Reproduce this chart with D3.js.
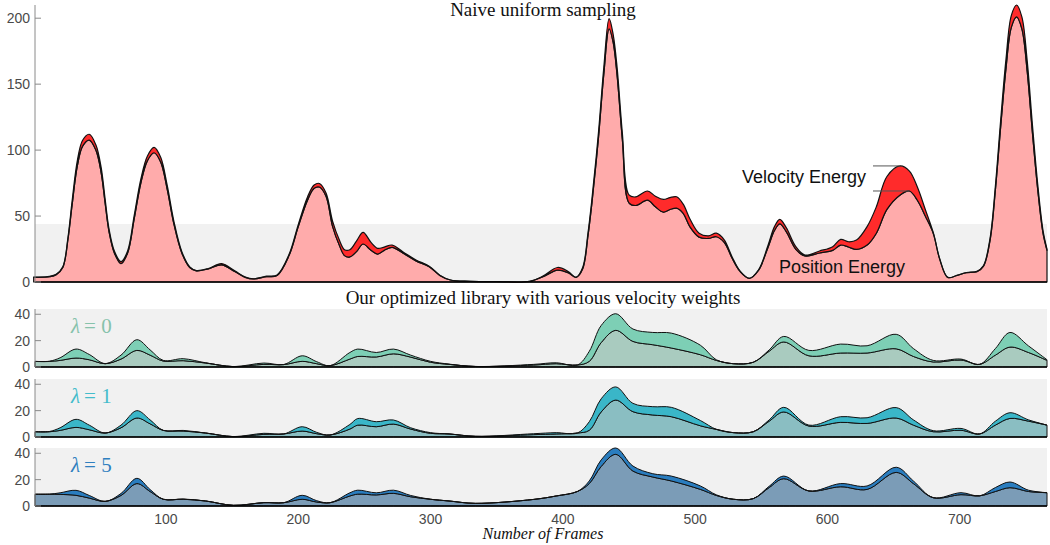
<!DOCTYPE html>
<html>
<head>
<meta charset="utf-8">
<title>Energy per frame</title>
<script src="https://d3js.org/d3.v7.min.js"></script>
<style>
    body { margin: 0; background: #fff; }
    text { font-family: "Liberation Sans", Arial, sans-serif; }
    .serif { font-family: "Liberation Serif", "DejaVu Serif", serif; }
</style>
</head>
<body>
<svg width="1050" height="545"></svg>
<script>
// top panel: naive uniform sampling
var naiveFrames = [0, 12, 17, 22, 26, 29, 33, 37, 42, 47, 51, 54, 57, 61, 66, 71, 76, 81, 86, 91, 96, 101, 106, 112, 118, 123, 132, 142, 152, 160, 166, 176, 184, 193, 200, 207, 212, 216, 221, 226, 231, 235, 239, 244, 249, 255, 260, 265, 271, 279, 289, 299, 307, 315, 330, 350, 375, 385, 396, 404, 410, 415, 419, 422, 427, 431, 435, 438, 441, 445, 450, 455, 464, 470, 476, 481, 486, 491, 496, 503, 510, 516, 522, 528, 534, 541, 548, 555, 560, 564, 569, 576, 583, 594, 604, 610, 616, 622, 630, 637, 645, 655, 662, 668, 674, 680, 685, 691, 698, 705, 713, 718, 723, 727, 731, 735, 739, 743, 747, 751, 755, 759, 763, 766];
var naivePosition = [3.6, 4, 5.5, 11, 33, 58, 88, 103, 107.5, 100, 83, 60, 38, 22, 14, 22, 48, 75, 92, 98, 91, 70, 44, 22, 11, 8.5, 10, 13, 8, 3.5, 2.3, 4, 5, 20, 42, 62, 71, 72, 65, 42, 28, 20, 19, 23, 28.8, 24, 21.2, 24, 26.3, 22, 16, 11.6, 5, 1.5, 0.5, 0.3, 0.5, 4, 9, 7, 3.5, 10, 35, 60, 110, 158, 192, 182, 157, 108, 60, 58, 62, 57, 53, 55, 56, 52, 42, 34, 33, 34.3, 30, 18, 8, 2.8, 9, 26, 39, 44, 38, 25, 19.7, 22, 24, 28, 26.5, 24.7, 28, 37, 55, 66, 69, 62, 50, 37, 17, 3.5, 5, 7, 7.8, 12, 32, 70, 118, 162, 193, 201, 192, 160, 113, 70, 37, 24];
var naiveVelocity = [0.2, 0.2, 0.3, 0.5, 1.5, 3, 4, 4.5, 4.5, 4, 4, 3, 2, 1.5, 1.5, 1.5, 2.5, 3, 3.5, 4, 3.5, 3, 2, 1, 0.5, 0.2, 0.2, 1, 0.5, 0.2, 0.1, 0.4, 0.4, 0.8, 1.5, 2.5, 2.5, 2.7, 2.5, 4, 4, 4.5, 5.5, 8, 8.8, 6, 4.3, 2.5, 1.7, 1, 0.7, 0.4, 0.2, 0, 0, 0, 0, 0.5, 2, 1, 0.1, 1, 2, 3, 4, 5, 7.7, 6, 6, 5, 6, 6.5, 7, 8, 9.6, 9, 8.6, 7, 6, 3, 2, 2.7, 2, 1, 0.3, 0, 0.3, 1.5, 3, 3.5, 3, 2, 0.8, 1.5, 2.8, 4.3, 4, 7.1, 14, 20, 25, 22, 15, 10, 5, 0.5, 0.2, 0, 0, 0.2, 0.3, 0.5, 1.5, 3, 5, 7, 9, 9, 9, 8, 6, 4, 2, 1];

// lower panels: optimized library, one panel per velocity weight
var libFrames = [1, 12, 20, 32, 42, 54, 66, 78, 88, 98, 113, 130, 151, 174, 189, 203, 214, 224, 239, 245, 259, 272, 285, 300, 314, 334, 378, 395, 411, 420, 429, 440, 453, 468, 482, 504, 516, 529, 544, 556, 567, 586, 610, 630, 652, 665, 680, 701, 715, 727, 738, 752, 766];
var lambdas = [0, 1, 5];
var libPosition0 = [4.2, 4.2, 5, 6.8, 5.5, 2.5, 6, 12.6, 9, 4.5, 4.8, 3, 0.3, 2, 1.8, 4.3, 2.5, 1, 6, 8, 7.6, 10, 7.5, 3.6, 2, 0.4, 1.5, 2.5, 1.5, 4.3, 18.5, 27.8, 19.4, 16.9, 14.4, 9.3, 5, 2.5, 3.6, 12, 19, 8.5, 10.6, 10.6, 13.8, 8, 3.8, 5.3, 2, 9, 15.1, 11, 5];
var libVelocity0 = [0.1, 0.2, 2, 6.8, 4, 0.1, 3, 8.1, 4, 0.5, 1.5, 0.2, 0, 1, 0.1, 4.2, 1.5, 0, 5, 5.6, 3.4, 3.6, 1.5, 0.7, 0.2, 0, 0.5, 0.7, 0, 7.6, 13, 12.6, 9.4, 9.3, 11.3, 7.2, 0.5, 0, 0, 1, 4.2, 4.1, 6.8, 5.5, 11, 6, 1.2, 0.7, 0, 5, 11.1, 5, 0.5];
var libPosition1 = [4, 4, 5, 7.3, 5.5, 3, 7, 14.4, 10, 5, 4.5, 3, 0.3, 2, 2.3, 4.5, 2.5, 1.5, 6, 9, 7.8, 9.8, 6, 2.8, 2.3, 0.5, 1.8, 2.3, 3, 5.1, 19, 28, 19.2, 16.7, 15.4, 8.5, 5.8, 3.3, 4, 12, 19, 8.3, 11.1, 10.3, 14.4, 9, 4, 5.1, 2.3, 9, 14.1, 12, 9];
var libVelocity1 = [0, 0.2, 2, 6.1, 3.5, 0, 2, 5.6, 3, 0, 0.5, 0, 0, 0.8, 0, 3.3, 1, 0, 3.5, 5, 3.8, 3.1, 1, 0.5, 0, 0, 0.7, 1, 0, 6.5, 10, 10, 6.3, 6.3, 7.1, 4, 0, 0, 0, 1, 3.5, 0.7, 4.3, 4.3, 7.9, 4, 0.8, 1.4, 0, 3, 4.3, 1, 0];
var libPosition5 = [8.9, 8.9, 8.8, 8.1, 6, 3.5, 8, 17, 11, 5.1, 5.1, 3.8, 0.5, 2.5, 2.5, 5.1, 3, 2.5, 7.6, 9, 8.4, 9.6, 7, 5.1, 3.8, 2, 5, 7.6, 11, 17, 30, 39.2, 26.5, 22, 19, 12.6, 8, 5.1, 5.6, 14, 20.7, 11.4, 14.6, 12.6, 25.5, 17, 6.3, 8.6, 7.7, 11, 13.9, 11, 10.1];
var libVelocity5 = [0, 0.1, 1.2, 3.8, 2, 0, 1.5, 4, 1.5, 0, 0.2, 0, 0, 0.1, 0, 3, 1, 0, 2.4, 3, 1.6, 2.4, 1, 0, 0, 0, 0, 0, 0, 2, 5, 4.8, 3.8, 2.5, 3.7, 2.6, 0.5, 0, 0, 1, 2, 0, 2.4, 2.6, 3.9, 2, 0, 1.5, 0, 3, 4.3, 1, 0];

var naiveTicks = [0, 50, 100, 150, 200];
var libTicks = [0, 20, 40];
var frameTicks = [100, 200, 300, 400, 500, 600, 700];

var svg = d3.select("svg");
var left = 35, right = 1047;
var highlight = 44; // grey band height, in energy units

var x = d3.scaleLinear().domain([1, 766]).range([left, right]);

var stack = d3.stack().keys(["position", "velocity"]);

function rows(frames, pos, vel) {
    return frames.map(function (f, i) {
        return { frame: f, position: pos[i], velocity: vel[i] };
    });
}

function drawPanel(g, y, data, lowColor, highColor, ticks, sw) {
    var layers = stack(data);
    var area = d3.area()
        .curve(d3.curveCatmullRom.alpha(0.5))
        .x(function (d) { return x(d.data.frame); })
        .y0(function (d) { return Math.min(y(d[0]), y(0)); })
        .y1(function (d) { return Math.min(y(d[1]), y(0)); });

    // grey band
    g.append("rect")
        .attr("x", left).attr("width", right - left)
        .attr("y", y(highlight)).attr("height", y(0) - y(highlight))
        .attr("fill", "#f1f1f1");

    g.selectAll(".layer")
        .data(layers)
        .enter().append("path")
        .attr("class", "layer")
        .attr("d", area)
        .attr("fill", function (d, i) { return i == 0 ? lowColor : highColor; })
        .attr("stroke", "#111")
        .attr("stroke-width", sw)
        .attr("stroke-linejoin", "round");

    // base line
    g.append("line")
        .attr("x1", left).attr("x2", right)
        .attr("y1", y(0)).attr("y2", y(0))
        .attr("stroke", "#000").attr("stroke-width", 1.5);

    // y axis
    g.append("line")
        .attr("x1", left).attr("x2", left)
        .attr("y1", y.range()[1]).attr("y2", y(0))
        .attr("stroke", "#8a8a8a").attr("stroke-width", 1);

    g.selectAll(".ytick")
        .data(ticks)
        .enter().append("line")
        .attr("x1", left).attr("x2", left + 6)
        .attr("y1", function (d) { return y(d); })
        .attr("y2", function (d) { return y(d); })
        .attr("stroke", "#8a8a8a");

    g.selectAll(".ylab")
        .data(ticks)
        .enter().append("text")
        .attr("x", left - 5)
        .attr("y", function (d) { return y(d); })
        .attr("dy", "0.35em")
        .attr("text-anchor", "end")
        .attr("fill", "#4a4a4a")
        .style("font-size", "14px")
        .text(function (d) { return d; });
}

// top panel
var yTop = d3.scaleLinear().domain([0, 210]).range([282, 5]);
drawPanel(svg.append("g"), yTop, rows(naiveFrames, naivePosition, naiveVelocity),
    "#ffabab", "#ff2b2b", naiveTicks, 1.2);

// lower panels
var libPos = [libPosition0, libPosition1, libPosition5];
var libVel = [libVelocity0, libVelocity1, libVelocity5];
var panelTops = [309, 379, 448];
var lowColors = ["#a9cbbf", "#8abec2", "#7b9cb7"];
var highColors = ["#7dcfb5", "#3ab6c8", "#2a7dbf"];
var labelColors = ["#86c2ab", "#43bccb", "#2f7fbf"];

lambdas.forEach(function (lam, i) {
    var y = d3.scaleLinear().domain([0, highlight]).range([panelTops[i] + 58, panelTops[i]]);
    var g = svg.append("g");
    drawPanel(g, y, rows(libFrames, libPos[i], libVel[i]), lowColors[i], highColors[i], libTicks, 1);

    var lab = g.append("text")
        .attr("class", "serif")
        .attr("x", 71)
        .attr("y", panelTops[i] + 24)
        .attr("fill", labelColors[i])
        .style("font-size", "21px");
    lab.append("tspan").style("font-style", "italic").text("\u03bb");
    lab.append("tspan").attr("dx", 4).text("= " + lam);
});

// frame tick labels
svg.selectAll(".xlab")
    .data(frameTicks)
    .enter().append("text")
    .attr("x", function (d) { return x(d); })
    .attr("y", 524)
    .attr("text-anchor", "middle")
    .attr("fill", "#4a4a4a")
    .style("font-size", "14px")
    .text(function (d) { return d; });

// titles
svg.append("text")
    .attr("class", "serif")
    .attr("x", 543).attr("y", 16)
    .attr("text-anchor", "middle")
    .attr("fill", "#111")
    .style("font-size", "19px")
    .text("Naive uniform sampling");

svg.append("text")
    .attr("class", "serif")
    .attr("x", 543).attr("y", 304)
    .attr("text-anchor", "middle")
    .attr("fill", "#111")
    .style("font-size", "19px")
    .text("Our optimized library with various velocity weights");

svg.append("text")
    .attr("class", "serif")
    .attr("x", 543).attr("y", 539)
    .attr("text-anchor", "middle")
    .attr("fill", "#111")
    .style("font-size", "16px")
    .style("font-style", "italic")
    .text("Number of Frames");

// annotations
svg.append("text")
    .attr("x", 742).attr("y", 183)
    .attr("fill", "#111")
    .style("font-size", "18px")
    .text("Velocity Energy");

svg.append("text")
    .attr("x", 779).attr("y", 273)
    .attr("fill", "#111")
    .style("font-size", "18px")
    .text("Position Energy");

svg.append("line")
    .attr("x1", 873).attr("x2", x(655))
    .attr("y1", yTop(88)).attr("y2", yTop(88))
    .attr("stroke", "#555");
svg.append("line")
    .attr("x1", 873).attr("x2", x(662))
    .attr("y1", yTop(69)).attr("y2", yTop(69))
    .attr("stroke", "#555");
</script>
</body>
</html>
